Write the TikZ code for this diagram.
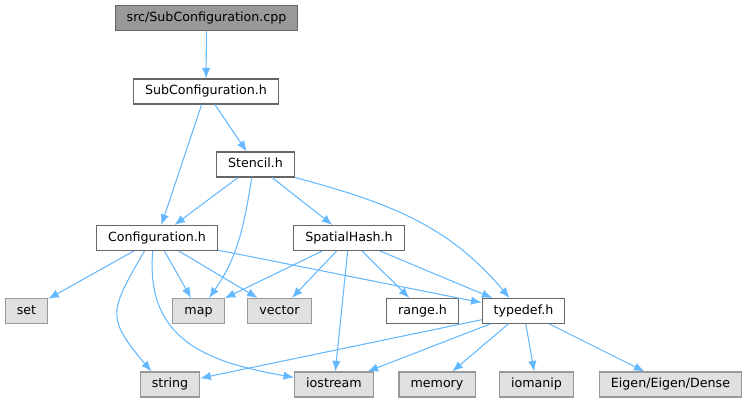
\documentclass[tikz,border=0pt]{standalone}
\usepackage{fontspec}
\setmainfont{DejaVu Sans}
\usetikzlibrary{arrows.meta}
\definecolor{edgeblue}{RGB}{99,184,255}
\definecolor{rootfill}{RGB}{153,153,153}
\definecolor{extfill}{RGB}{224,224,224}
\definecolor{darkline}{RGB}{102,102,102}
\definecolor{lightline}{RGB}{153,153,153}

\begin{document}
\begin{tikzpicture}[x=0.02cm, y=0.02cm,
  hdr/.style={rectangle, draw=darkline, fill=#1, line width=0.6pt,
              font=\fontsize{7.2}{8}\selectfont, inner xsep=6.6pt, inner ysep=0pt,
              text height=5.4pt, text depth=1.6pt, minimum height=0.5cm},
  hdr/.default=white,
  ext/.style={hdr=extfill, draw=lightline},
  ar/.style={draw=edgeblue, line width=0.6pt, -{Latex[length=6pt,width=4.8pt]}},
]
\useasboundingbox (0,0) rectangle (747,403);

\node[hdr=rootfill] (cpp)      at (206.5, 385)  {src/SubConfiguration.cpp};
\node[hdr]          (subh)     at (206,   311.5) {SubConfiguration.h};
\node[hdr]          (stencil)  at (255.5, 238.5) {Stencil.h};
\node[hdr]          (conf)     at (157,   165)  {Configuration.h};
\node[hdr]          (spatial)  at (349,   165)  {SpatialHash.h};
\node[ext]          (set)      at (26.5,  92)   {set};
\node[ext]          (map)      at (198.5, 92)   {map};
\node[ext]          (vector)   at (279.5, 92)   {vector};
\node[hdr]          (range)    at (422.5, 92)   {range.h};
\node[hdr]          (typedef)  at (523.5, 92)   {typedef.h};
\node[ext]          (string)   at (170,   18.5) {string};
\node[ext]          (iostream) at (334,   18.5) {iostream};
\node[ext]          (memory)   at (437,   18.5) {memory};
\node[ext]          (iomanip)  at (536.5, 18.5) {iomanip};
\node[ext]          (eigen)    at (670.5, 18.5) {Eigen/Eigen/Dense};

\draw[ar] (cpp) -- (subh);
\draw[ar] (subh) -- (conf);
\draw[ar] (subh) -- (stencil);
\draw[ar] (stencil) -- (conf);
\draw[ar] (stencil.-106) to[out=-99, in=55] (map.51);
\draw[ar] (stencil) -- (spatial);
\draw[ar] (stencil.south east) to[out=-15, in=130] (typedef.137);
\draw[ar] (conf) -- (set);
\draw[ar] (conf) -- (map);
\draw[ar] (conf) -- (vector);
\draw[ar] (conf) -- (typedef);
\draw[ar] (conf.-134) to[out=-120, in=130, looseness=1.5] (string.145);
\draw[ar] (conf.-108) to[out=-95, in=170, looseness=1.2] (iostream.170);
\draw[ar] (spatial) -- (map);
\draw[ar] (spatial) -- (vector);
\draw[ar] (spatial) -- (iostream);
\draw[ar] (spatial) -- (range);
\draw[ar] (spatial) -- (typedef);
\draw[ar] (typedef) -- (string);
\draw[ar] (typedef) -- (iostream);
\draw[ar] (typedef) -- (memory);
\draw[ar] (typedef) -- (iomanip);
\draw[ar] (typedef) -- (eigen);
\end{tikzpicture}
\end{document}
